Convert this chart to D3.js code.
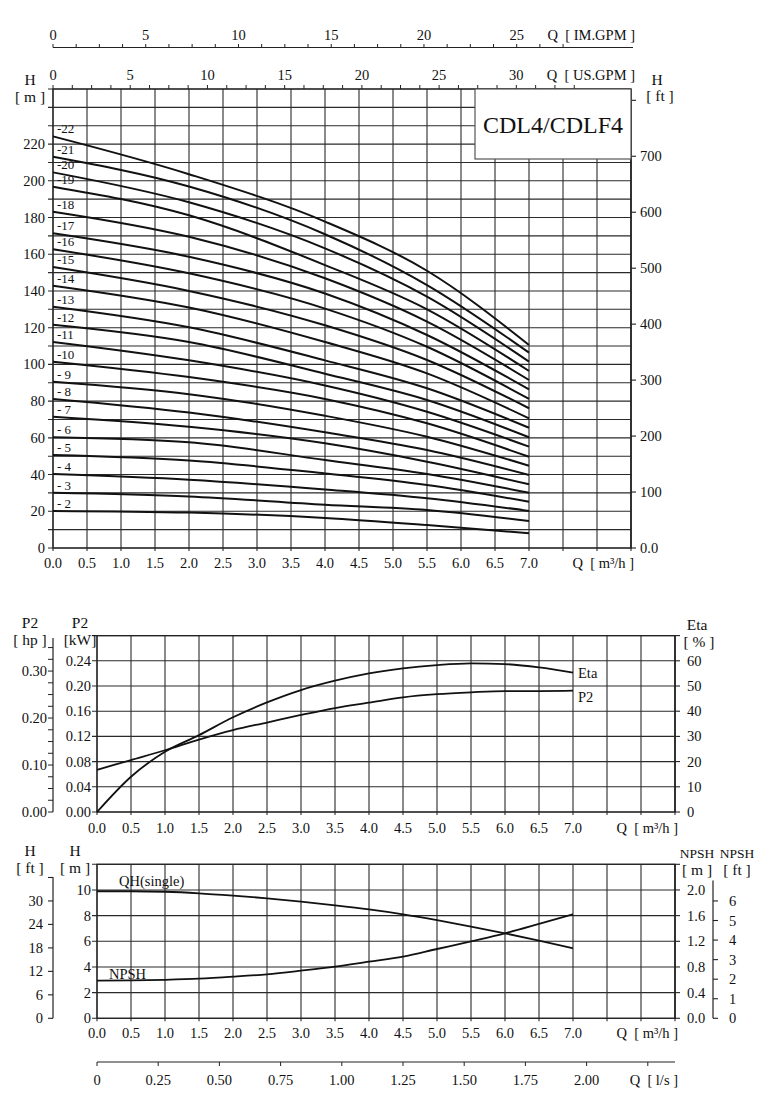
<!DOCTYPE html>
<html><head><meta charset="utf-8">
<script src="https://cdn.jsdelivr.net/npm/d3@7"></script>
<style>
body{margin:0;background:#fff}
text{font-family:"Liberation Serif","Times New Roman",serif;fill:#111;font-size:14.5px;white-space:pre}
</style>
</head><body>
<svg id="c" width="782" height="1120"></svg>
<script>
// ---------------- DATA ----------------
const stages = [22,21,20,19,18,17,16,15,14,13,12,11,10,9,8,7,6,5,4,3,2];
const stageQ = [0, 2, 4, 5.5, 7];
const stageHeads = [
  [224.2, 203.6, 177.8, 151.0, 110.6],
  [213.1, 196.9, 170.9, 143.2, 106.4],
  [204.6, 188.3, 163.2, 136.9, 101.5],
  [196.8, 181.2, 154.1, 130.0,  96.4],
  [183.2, 169.5, 146.9, 123.3,  91.5],
  [171.4, 158.6, 138.6, 116.0,  86.4],
  [162.7, 149.6, 130.4, 109.6,  81.2],
  [153.0, 140.0, 121.3, 102.4,  76.1],
  [142.9, 131.0, 112.2,  95.1,  70.6],
  [131.4, 120.2, 102.2,  87.0,  65.5],
  [121.6, 112.2,  94.9,  80.6,  60.3],
  [112.2, 102.2,  88.5,  74.2,  55.2],
  [101.5,  93.1,  81.2,  67.9,  49.7],
  [ 90.6,  83.8,  72.0,  60.6,  44.8],
  [ 81.2,  73.8,  63.0,  53.4,  39.8],
  [ 71.5,  66.0,  57.0,  47.0,  34.7],
  [ 60.3,  57.6,  47.9,  40.3,  30.1],
  [ 50.6,  47.6,  40.6,  34.3,  25.2],
  [ 40.3,  37.2,  31.9,  27.1,  20.2],
  [ 30.1,  28.1,  23.6,  20.7,  14.7],
  [ 20.2,  19.3,  16.4,  12.5,   8.0]
];

const perfQ = [0,0.5,1,1.5,2,2.5,3,3.5,4,4.5,5,5.5,6,6.5,7];
const etaPct = [0,14,23.9,30.5,37.6,43.5,48.4,52.1,55,57,58.3,59,58.7,57.4,55.3];
const p2kW = [0.067,0.0825,0.098,0.115,0.130,0.142,0.154,0.165,0.1735,0.182,0.187,0.190,0.192,0.192,0.1925];
const qhSingle = [9.9,9.9,9.86,9.74,9.56,9.35,9.09,8.8,8.48,8.1,7.65,7.15,6.62,6.05,5.45];
const npshM = [0.586,0.59,0.6,0.617,0.648,0.686,0.742,0.804,0.882,0.96,1.08,1.2,1.324,1.47,1.62];

// tick values / labels
const flowTicks = [0,0.5,1,1.5,2,2.5,3,3.5,4,4.5,5,5.5,6,6.5,7];
const flowGrid = [0,0.5,1,1.5,2,2.5,3,3.5,4,4.5,5,5.5,6,6.5,7,7.5,8,8.5];
const imGpmLabels = [0,5,10,15,20,25];
const usGpmLabels = [0,5,10,15,20,25,30];
const headMLabels = [0,20,40,60,80,100,120,140,160,180,200,220];
const headFtLabels = [0,100,200,300,400,500,600,700];
const kwLabels = [0,0.04,0.08,0.12,0.16,0.20,0.24];
const hpLabels = [0,0.10,0.20,0.30];
const etaLabels = [0,10,20,30,40,50,60];
const hSmallLabels = [0,2,4,6,8,10];
const hSmallFtLabels = [0,6,12,18,24,30];
const npshMLabels = [0,0.4,0.8,1.2,1.6,2.0];
const npshFtLabels = [0,1,2,3,4,5,6];
const lpsLabels = [0,0.25,0.5,0.75,1.0,1.25,1.5,1.75,2.0];

// ---------------- DRAW ----------------
const svg = d3.select("#c");
const GRID = "#2a2a2a";
const FS = 14.5, TS = 15.5;
const M3H_PER_USGPM = 1/4.40287, M3H_PER_IMGPM = 1/3.66615, M3H_PER_LPS = 3.6, FT = 0.3048, HP = 0.7457;

function txt(x, y, s, anchor, size, g) {
  const t = (g||svg).append("text").attr("x", x).attr("y", y).attr("text-anchor", anchor||"start").text(s);
  if (size) t.style("font-size", size + "px");
  return t;
}
function grid(g, x, y, xs, ys, x0, x1, y0, y1) {
  xs.forEach(v => g.append("line").attr("x1", x(v)).attr("x2", x(v)).attr("y1", y0).attr("y2", y1 + 3)
    .attr("stroke", GRID).attr("stroke-width", 1.1));
  ys.forEach(v => g.append("line").attr("x1", x0 - 5).attr("x2", x1).attr("y1", y(v)).attr("y2", y(v))
    .attr("stroke", GRID).attr("stroke-width", 1.1));
}
function vAxis(g, xpos, scale, ticks, labels, fmt, side, labelOffset) {
  const r = scale.range();
  g.append("line").attr("x1", xpos).attr("x2", xpos).attr("y1", r[0]).attr("y2", r[1]).attr("stroke", "#222").attr("stroke-width", 1.2);
  ticks.forEach(v => g.append("line").attr("x1", xpos).attr("x2", xpos + side * 5).attr("y1", scale(v)).attr("y2", scale(v)).attr("stroke", "#222").attr("stroke-width", 1.1));
  labels.forEach(v => txt(xpos + side * labelOffset, scale(v) + 5, fmt(v), side < 0 ? "end" : "start", FS, g));
}

// ===== TOP CHART =====
const gt = svg.append("g");
const xT = d3.scaleLinear().domain([0, 8.5]).range([53, 631]);
const yT = d3.scaleLinear().domain([0, 250]).range([548, 89]);
grid(gt, xT, yT, flowGrid, d3.range(0, 251, 10), 53, 631, 89, 548);
gt.append("rect").attr("x", 53).attr("y", 89).attr("width", 578).attr("height", 459).attr("fill", "none").attr("stroke", "#222").attr("stroke-width", 1.2);
headMLabels.forEach(v => txt(45, yT(v) + 5, v, "end", FS, gt));
flowTicks.forEach(v => txt(xT(v), 568, v.toFixed(1), "middle", FS, gt));
txt(634, 568, "Q  [ m³/h ]", "end", FS, gt);
const yFt = d3.scaleLinear().domain([0, 250 / FT]).range([548, 89]);
vAxis(gt, 631, yFt, [0,100,200,300,400,500,600,700,800], headFtLabels, v => v === 0 ? "0.0" : v, 1, 9);
d3.range(0, 33.76, 1.25).forEach(v => gt.append("line").attr("x1", xT(v * M3H_PER_USGPM)).attr("x2", xT(v * M3H_PER_USGPM)).attr("y1", 89).attr("y2", 85).attr("stroke", "#222"));
usGpmLabels.forEach(v => txt(xT(v * M3H_PER_USGPM), 80, v, "middle", FS, gt));
txt(635, 80, "Q  [ US.GPM ]", "end", FS, gt);
gt.append("line").attr("x1", 53).attr("x2", 633).attr("y1", 47.5).attr("y2", 47.5).attr("stroke", "#222").attr("stroke-width", 1.2);
d3.range(0, 28.2, 1.25).forEach(v => gt.append("line").attr("x1", xT(v * M3H_PER_IMGPM)).attr("x2", xT(v * M3H_PER_IMGPM)).attr("y1", 47.5).attr("y2", 44).attr("stroke", "#222"));
imGpmLabels.forEach(v => txt(xT(v * M3H_PER_IMGPM), 40, v, "middle", FS, gt));
txt(635, 40, "Q  [ IM.GPM ]", "end", FS, gt);
txt(30, 85, "H", "middle", TS, gt); txt(30, 102, "[ m ]", "middle", TS, gt);
txt(657, 85, "H", "middle", TS, gt); txt(660, 101, "[ ft ]", "middle", TS, gt);
gt.append("rect").attr("x", 475).attr("y", 89).attr("width", 156).attr("height", 70).attr("fill", "#fff").attr("stroke", "#555").attr("stroke-width", 1.2);
txt(553, 133, "CDL4/CDLF4", "middle", 24, gt);
const lineT = d3.line().x(d => xT(d[0])).y(d => yT(d[1])).curve(d3.curveMonotoneX);
stages.forEach((s, i) => {
  const pts = stageQ.map((q, j) => [q, stageHeads[i][j]]);
  gt.append("path").attr("d", lineT(pts)).attr("fill", "none").attr("stroke", "#111").attr("stroke-width", 2);
  txt(57, yT(stageHeads[i][0]) - 3, s >= 10 ? "-" + s : "- " + s, "start", 13, gt);
});

// ===== MIDDLE CHART =====
const gm = svg.append("g");
const xM = d3.scaleLinear().domain([0, 8.5]).range([97, 675]);
const yM = d3.scaleLinear().domain([0, 0.28]).range([812, 635.6]);
grid(gm, xM, yM, flowGrid, d3.range(0, 0.281, 0.04), 97, 675, 635.6, 812);
gm.append("rect").attr("x", 97).attr("y", 635.6).attr("width", 578).attr("height", 176.4).attr("fill", "none").attr("stroke", "#222").attr("stroke-width", 1.2);
kwLabels.forEach(v => txt(91, yM(v) + 5, v.toFixed(2), "end", FS, gm));
flowTicks.forEach(v => txt(xM(v), 833, v.toFixed(1), "middle", FS, gm));
txt(678, 833, "Q  [ m³/h ]", "end", FS, gm);
const yEta = d3.scaleLinear().domain([0, 70]).range([812, 635.6]);
vAxis(gm, 675, yEta, etaLabels.concat([70]), etaLabels, v => v, 1, 12);
const yHp = d3.scaleLinear().domain([0, 0.28 / HP]).range([812, 635.6]);
gm.append("line").attr("x1", 53).attr("x2", 53).attr("y1", 812).attr("y2", 638).attr("stroke", "#222").attr("stroke-width", 1.2);
d3.range(0, 0.351, 0.025).forEach(v => gm.append("line").attr("x1", 53).attr("x2", 48).attr("y1", yHp(v)).attr("y2", yHp(v)).attr("stroke", "#222"));
hpLabels.forEach(v => txt(47, yHp(v) + 5, v.toFixed(2), "end", FS, gm));
txt(30, 628, "P2", "middle", TS, gm); txt(30, 645, "[ hp ]", "middle", TS, gm);
txt(80, 628, "P2", "middle", TS, gm); txt(80, 645, "[kW]", "middle", TS, gm);
txt(697, 630, "Eta", "middle", TS, gm); txt(699, 647, "[ % ]", "middle", TS, gm);
const lineEta = d3.line().x((d, i) => xM(perfQ[i])).y(d => yEta(d)).curve(d3.curveMonotoneX);
const lineP2 = d3.line().x((d, i) => xM(perfQ[i])).y(d => yM(d)).curve(d3.curveMonotoneX);
gm.append("path").attr("d", lineEta(etaPct)).attr("fill", "none").attr("stroke", "#111").attr("stroke-width", 1.8);
gm.append("path").attr("d", lineP2(p2kW)).attr("fill", "none").attr("stroke", "#111").attr("stroke-width", 1.8);
txt(578, yEta(etaPct[etaPct.length - 1]) + 5, "Eta", "start", FS, gm);
txt(578, yM(p2kW[p2kW.length - 1]) + 11, "P2", "start", FS, gm);

// ===== BOTTOM CHART =====
const gb = svg.append("g");
const xB = d3.scaleLinear().domain([0, 8.5]).range([97, 675]);
const yB = d3.scaleLinear().domain([0, 12]).range([1018.3, 864.3]);
grid(gb, xB, yB, flowGrid, d3.range(0, 12.1, 2), 97, 675, 864.3, 1018.3);
gb.append("rect").attr("x", 97).attr("y", 864.3).attr("width", 578).attr("height", 154).attr("fill", "none").attr("stroke", "#222").attr("stroke-width", 1.2);
hSmallLabels.forEach(v => txt(91, yB(v) + 5, v, "end", FS, gb));
flowTicks.forEach(v => txt(xB(v), 1038, v.toFixed(1), "middle", FS, gb));
txt(678, 1038, "Q  [ m³/h ]", "end", FS, gb);
const yNp = d3.scaleLinear().domain([0, 2.4]).range([1018.3, 864.3]);
vAxis(gb, 675, yNp, npshMLabels.concat([2.4]), npshMLabels, v => v.toFixed(1), 1, 12);
const yNpFt = d3.scaleLinear().domain([0, 7.05]).range([1018.3, 1018.3 - 7.05 * FT / 2.4 * 154]);
vAxis(gb, 713, yNpFt, npshFtLabels, npshFtLabels, v => v, 1, 16);
const yHFt = d3.scaleLinear().domain([0, 36.1]).range([1018.3, 1018.3 - 36.1 * FT / 12 * 154]);
vAxis(gb, 53, yHFt, [0,6,12,18,24,30,36], hSmallFtLabels, v => v, -1, 10);
txt(30, 856, "H", "middle", TS, gb); txt(30, 873, "[ ft ]", "middle", TS, gb);
txt(75, 856, "H", "middle", TS, gb); txt(75, 873, "[ m ]", "middle", TS, gb);
txt(697, 858, "NPSH", "middle", 13.5, gb); txt(697, 875, "[ m ]", "middle", TS, gb);
txt(737, 858, "NPSH", "middle", 13.5, gb); txt(737, 875, "[ ft ]", "middle", TS, gb);
const lineQH = d3.line().x((d, i) => xB(perfQ[i])).y(d => yB(d)).curve(d3.curveMonotoneX);
const lineNp = d3.line().x((d, i) => xB(perfQ[i])).y(d => yNp(d)).curve(d3.curveMonotoneX);
gb.append("path").attr("d", lineQH(qhSingle)).attr("fill", "none").attr("stroke", "#111").attr("stroke-width", 1.8);
gb.append("path").attr("d", lineNp(npshM)).attr("fill", "none").attr("stroke", "#111").attr("stroke-width", 1.8);
txt(119, 886, "QH(single)", "start", FS, gb);
txt(109, 979, "NPSH", "start", FS, gb);
gb.append("line").attr("x1", 97).attr("x2", 675).attr("y1", 1062).attr("y2", 1062).attr("stroke", "#222").attr("stroke-width", 1.2);
d3.range(0, 2.26, 0.25).forEach(v => gb.append("line").attr("x1", xB(v * M3H_PER_LPS)).attr("x2", xB(v * M3H_PER_LPS)).attr("y1", 1062).attr("y2", 1066).attr("stroke", "#222"));
lpsLabels.forEach(v => txt(xB(v * M3H_PER_LPS), 1085, v === 0 ? "0" : v.toFixed(2), "middle", FS, gb));
txt(678, 1085, "Q  [ l/s ]", "end", FS, gb);
</script>
</body></html>
